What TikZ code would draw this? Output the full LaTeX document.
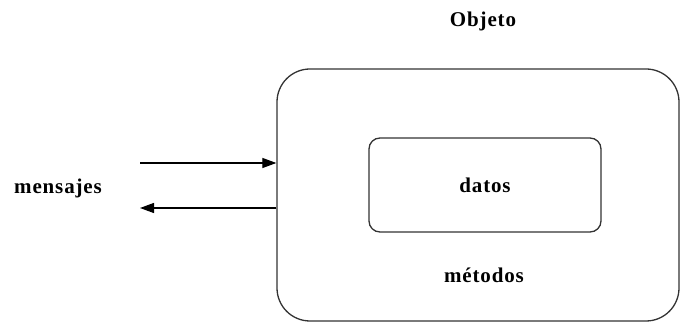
\documentclass[tikz,border=0pt]{standalone}
\usepackage{fontspec}
\setmainfont{Liberation Serif}
\newfontfamily\lblfont[LetterSpace=4]{Liberation Serif}
\usetikzlibrary{arrows.meta, positioning, calc}

\begin{document}
\begin{tikzpicture}[
    x=1pt, y=-1pt,
    every node/.style={font=\lblfont\fontsize{21}{24}\selectfont\bfseries},
    objbox/.style={draw=black!80, line width=1.3pt, rounded corners=#1, inner sep=0pt},
    arr/.style={-{Triangle[length=14pt, width=10pt]}, line width=1.2pt},
]
    \useasboundingbox (0,0) rectangle (681,323);

    % Object and its parts
    \node[objbox=33pt, minimum width=402pt, minimum height=252pt] (obj) at (478,195) {};
    \node[objbox=11pt, minimum width=232pt, minimum height=94pt] (datos) at (485,185) {datos};
    \node (metodos) at (484,275) {métodos};
    \node (objeto) at (483,21) {Objeto};

    % Messages
    \node (mensajes) at (58,188) {mensajes};
    \coordinate (msgin) at (140,163);
    \coordinate (msgout) at (140,208);

    % Arrows
    \draw[arr] (msgin) -- (msgin -| obj.west);
    \draw[arr] (obj.west |- msgout) -- (msgout);
\end{tikzpicture}
\end{document}
